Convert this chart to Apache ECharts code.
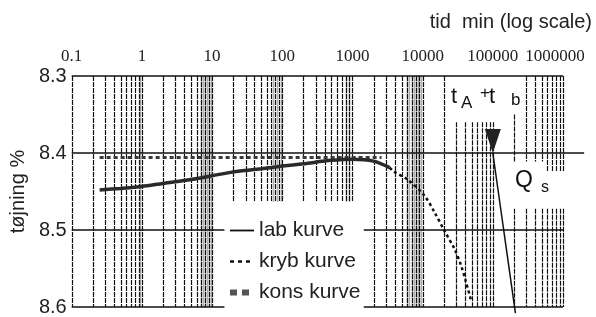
<!DOCTYPE html>
<html><head><meta charset="utf-8">
<script src="https://cdn.jsdelivr.net/npm/echarts@6/dist/echarts.min.js"></script>
<style>html,body{margin:0;padding:0;background:#fff}#c{width:596px;height:317px}</style>
</head><body><div id="c"></div>
<script>
// ---------------- data ----------------
const xTickLabels = ['0.1', '1', '10', '100', '1000', '10000', '100000', '1000000'];
const yTickLabels = ['8.3', '8.4', '8.5', '8.6'];

// lab kurve (measured)
const labTime   = [0.25, 0.5, 1, 2, 5, 10, 20, 50, 100, 200, 500, 1000, 2000, 3400];
const labStrain = [8.448, 8.446, 8.4435, 8.4395, 8.4345, 8.4296, 8.4245, 8.4205, 8.417, 8.414, 8.4095, 8.408, 8.4105, 8.419];
// kryb kurve (creep, tertiary part)
const krybTime   = [3400, 3800, 6200, 10600, 14700, 20300, 28200, 35000, 41200, 48500];
const krybStrain = [8.419, 8.4235, 8.435, 8.4553, 8.4767, 8.5004, 8.524, 8.545, 8.5665, 8.590];
// kons kurve
const konsTime   = [0.25, 2600];
const konsStrain = [8.406, 8.406];
// failure arrow (t_A + t_b) and Q_s line
const failureTime = [100000];
const failureStrain = [8.4];
const qsTime   = [100000, 210000];
const qsStrain = [8.4, 8.608];

// log grid
const decadeStarts = [0.1, 1, 10, 100, 1000, 10000, 100000];
const decadeMultipliers = [1, 2, 3, 4, 5, 6, 7, 8, 9];
const lastGridTime = 1000000;
const scanGrayTimes = [0.95, 7, 7.5, 8, 8.5, 9, 9.5, 75, 85, 95, 800, 900, 6000, 6500, 7000, 7500, 8000, 8500, 9000, 9500];
// horizontal rules: [tFrom, strain, tTo]
const hRules = [
  [0.1, 8.3, 1000000],
  [0.1, 8.4, 2000000],
  [0.1, 8.5, 15], [1450, 8.5, 1000000],
  [0.1, 8.6, 15], [1450, 8.6, 1000000]
];
// zones where grid lines are interrupted
const legendZone = {tFrom: 15, tTo: 1500, lineEnd: 8.4635};
const labelZones = [{tFrom: 25000, tTo: 150000, lineStart: 8.36}, {tFrom: 150000, tTo: 250000, lineStart: 8.35}];
const qsZones = [{tFrom: 150000, tTo: 550000, gapFrom: 8.411, gapTo: 8.4725}, {tFrom: 550000, tTo: 1100000, gapFrom: 8.424, gapTo: 8.4725}];

// ---------------- build ----------------
function segmentsFor(t) {
  let a = 8.3, b = 8.6;
  if (t > legendZone.tFrom && t < legendZone.tTo) b = legendZone.lineEnd;
  labelZones.forEach(z => { if (t > z.tFrom && t < z.tTo) a = z.lineStart; });
  let segs = [[a, b]];
  qsZones.forEach(z => {
    if (t > z.tFrom && t < z.tTo) segs = [[a, z.gapFrom], [z.gapTo, b]];
  });
  return segs.map(s => [t, s[0], s[1]]);
}
const gridTimes = [];
decadeStarts.forEach(d => decadeMultipliers.forEach(m => gridTimes.push(+(d * m).toPrecision(6))));
gridTimes.push(lastGridTime);
const vSegs = [];
gridTimes.forEach(t => segmentsFor(t).forEach(s => vSegs.push(s)));
const graySegs = [];
scanGrayTimes.forEach(t => segmentsFor(t).forEach(s => graySegs.push(s)));

const zip = (a, b) => a.map((v, i) => [v, b[i]]);

function vRender(color, width, dash) {
  return function (params, api) {
    const p1 = api.coord([api.value(0), api.value(1)]);
    const p2 = api.coord([api.value(0), api.value(2)]);
    const x = Math.round(p1[0]) + 0.5;
    return {type: 'line', shape: {x1: x, y1: p1[1], x2: x, y2: p2[1]},
      style: {stroke: color, lineWidth: width, lineDash: dash}};
  };
}
function hRender(params, api) {
  const p1 = api.coord([api.value(0), api.value(1)]);
  const p2 = api.coord([api.value(2), api.value(1)]);
  return {type: 'line', shape: {x1: p1[0], y1: p1[1], x2: p2[0], y2: p2[1]},
    style: {stroke: '#111', lineWidth: 1.6}};
}
function arrowRender(params, api) {
  const p = api.coord([api.value(0), api.value(1)]);
  return {type: 'polygon', shape: {points: [[p[0], p[1]], [p[0] - 8, p[1] - 24], [p[0] + 8, p[1] - 24]]},
    style: {fill: '#222'}};
}

const SANS = '"Liberation Sans", Arial, sans-serif';
const SERIF = '"Liberation Serif", "Times New Roman", serif';

const chart = echarts.init(document.getElementById('c'));
chart.setOption({
  animation: false,
  backgroundColor: '#fff',
  grid: {left: 68, right: 33, top: 76, bottom: 8, containLabel: false},
  xAxis: {
    type: 'log', logBase: 10, min: 0.1, max: 1000000, position: 'top',
    name: 'tid  min (log scale)', nameLocation: 'end', nameGap: 29,
    nameTextStyle: {fontFamily: SANS, fontSize: 20, color: '#222', align: 'right', verticalAlign: 'bottom', padding: [0, 0, 44, 0]},
    axisLine: {show: false}, axisTick: {show: false}, splitLine: {show: false}, minorTick: {show: false},
    axisLabel: {
      fontFamily: SERIF, fontSize: 17, color: '#222', margin: 11,
      formatter: v => {
        const i = Math.round(Math.log10(v)) + 1;
        const s = xTickLabels[i];
        return i === xTickLabels.length - 1 ? '{last|' + s + '}' : s;
      },
      rich: {last: {fontFamily: SERIF, fontSize: 17, color: '#222', padding: [0, 16, 0, 0]}}
    }
  },
  yAxis: {
    type: 'value', inverse: true, min: 8.3, max: 8.6, interval: 0.1,
    name: 'tøjning %', nameLocation: 'middle', nameGap: 30,
    nameTextStyle: {fontFamily: SANS, fontSize: 20, color: '#222'},
    axisLine: {show: false}, axisTick: {show: false}, splitLine: {show: false},
    axisLabel: {fontFamily: SANS, fontSize: 20, color: '#222', margin: 5,
      formatter: v => yTickLabels[Math.round((v - 8.3) * 10)]}
  },
  legend: {
    orient: 'vertical', left: 222, top: 215, itemWidth: 24, itemHeight: 14, itemGap: 10,
    itemStyle: {opacity: 0},
    textStyle: {fontFamily: SANS, fontSize: 21, color: '#222', lineHeight: 21},
    data: [
      {name: 'lab kurve', lineStyle: {width: 1.8, color: '#111', type: 'solid'}},
      {name: 'kryb kurve', lineStyle: {width: 2.5, color: '#111', type: [4, 4]}},
      {name: 'kons kurve', lineStyle: {width: 6, color: '#555', type: [7, 5]}}
    ],
    selectedMode: false
  },
  series: [
    {type: 'custom', name: 'scan', silent: true, data: graySegs, renderItem: vRender('#b0b0b0', 1.5, null)},
    {type: 'custom', name: 'vgrid', silent: true, data: vSegs, renderItem: vRender('#111', 1.2, [5, 1])},
    {type: 'custom', name: 'hgrid', silent: true, data: hRules, renderItem: hRender},
    {type: 'line', name: 'kons kurve', data: zip(konsTime, konsStrain), symbol: 'none', silent: true,
      itemStyle: {color: '#3a3a3a'}, lineStyle: {color: '#3a3a3a', width: 3, type: [4, 3]}},
    {type: 'line', name: 'lab kurve', data: zip(labTime, labStrain), symbol: 'none', smooth: 0.3, silent: true,
      itemStyle: {color: '#2a2a2a'}, lineStyle: {color: '#2a2a2a', width: 3.5}},
    {type: 'line', name: 'kryb kurve', data: zip(krybTime, krybStrain), symbol: 'none', smooth: 0.3, silent: true,
      itemStyle: {color: '#111'}, lineStyle: {color: '#111', width: 2.5, type: [3, 3]}},
    {type: 'line', name: 'Qs', data: zip(qsTime, qsStrain), symbol: 'none', clip: false, silent: true,
      lineStyle: {color: '#111', width: 1.5}},
    {type: 'custom', name: 'arrow', silent: true, data: zip(failureTime, failureStrain), renderItem: arrowRender}
  ],
  graphic: [
    {type: 'text', left: 451, top: 86, style: {text: 't', font: '22px ' + SANS, fill: '#111'}},
    {type: 'text', left: 461, top: 95, style: {text: 'A', font: '17px ' + SANS, fill: '#111'}},
    {type: 'text', left: 480, top: 85, style: {text: '+', font: '17px ' + SANS, fill: '#111'}},
    {type: 'text', left: 489, top: 86, style: {text: 't', font: '22px ' + SANS, fill: '#111'}},
    {type: 'text', left: 511, top: 92, style: {text: 'b', font: '17px ' + SANS, fill: '#111'}},
    {type: 'text', left: 515, top: 169, style: {text: 'Q', font: '23px ' + SANS, fill: '#111'}},
    {type: 'text', left: 541, top: 180, style: {text: 's', font: '16px ' + SANS, fill: '#111'}}
  ]
});
</script></body></html>
